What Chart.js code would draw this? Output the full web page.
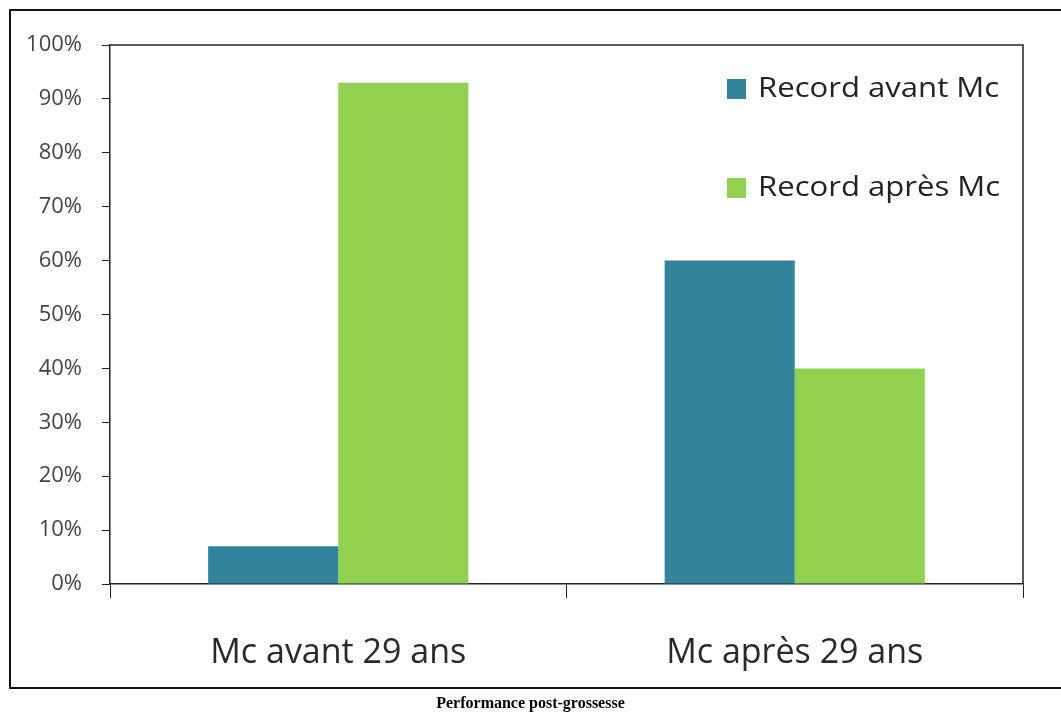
<!DOCTYPE html>
<html>
<head>
<meta charset="utf-8">
<script src="https://cdn.jsdelivr.net/npm/chart.js@4.4.1/dist/chart.umd.min.js"></script>
<style>
  html, body { margin: 0; padding: 0; background: #fff; overflow: hidden; }
  #frame {
    position: absolute; left: 9px; top: 9px; width: 1070px; height: 676px;
    border: 2px solid #111; box-sizing: content-box;
  }
  #wrap { position: absolute; left: 0; top: 0; width: 1061px; height: 715px; }
  #caption {
    position: absolute; left: 0; width: 1061px; top: 694px; text-align: center;
    font: bold 16px "Liberation Serif", "DejaVu Serif", serif; color: #000;
  }
</style>
</head>
<body>
<div id="frame"></div>
<div id="wrap"><canvas id="chart" width="1061" height="715"></canvas></div>
<div id="caption">Performance post-grossesse</div>
<script>
// ── données ──────────────────────────────────────────
const categories = ["Mc avant 29 ans", "Mc après 29 ans"];
const seriesNames = ["Record avant Mc", "Record après Mc"];
const recordAvant = [7, 60];
const recordApres = [93, 40];
const yTicks = [0, 10, 20, 30, 40, 50, 60, 70, 80, 90, 100];

const colors = ["#31849B", "#92D050"];
const fontFamily = "'Open Sans', Lato, sans-serif";

// cadre noir autour de la zone de tracé (haut + droite)
const plotBox = {
  id: "plotBox",
  afterDraw(chart) {
    const { ctx, chartArea: a } = chart;
    ctx.save();
    ctx.strokeStyle = "#222";
    ctx.lineWidth = 1.5;
    ctx.beginPath();
    ctx.moveTo(a.left, a.top);
    ctx.lineTo(a.right, a.top);
    ctx.lineTo(a.right, a.bottom);
    ctx.stroke();
    ctx.restore();
  },
};

// légende dessinée à l'intérieur du graphique (texte un peu étiré en largeur)
const insideLegend = {
  id: "insideLegend",
  afterDraw(chart) {
    const { ctx } = chart;
    ctx.save();
    ctx.font = "28px " + fontFamily;
    ctx.textBaseline = "middle";
    chart.data.datasets.forEach((ds, i) => {
      const y = 89 + i * 99;
      ctx.fillStyle = ds.backgroundColor;
      ctx.fillRect(727, y - 10, 19, 20);
      ctx.fillStyle = "#222";
      ctx.save();
      ctx.translate(758, y);
      ctx.scale(1.11, 1);
      ctx.fillText(ds.label, 0, 0);
      ctx.restore();
    });
    ctx.restore();
  },
};

new Chart(document.getElementById("chart").getContext("2d"), {
  type: "bar",
  data: {
    labels: categories,
    datasets: [
      { label: seriesNames[0], data: recordAvant, backgroundColor: colors[0] },
      { label: seriesNames[1], data: recordApres, backgroundColor: colors[1] },
    ],
  },
  options: {
    responsive: false,
    animation: false,
    events: [],
    layout: { padding: { top: 45, right: 38, left: 0, bottom: 0 } },
    datasets: { bar: { categoryPercentage: 0.57, barPercentage: 1.0 } },
    plugins: { legend: { display: false }, tooltip: { enabled: false } },
    scales: {
      x: {
        afterFit: (s) => { s.height = 131; },
        grid: { drawOnChartArea: false, drawTicks: true, tickLength: 14, color: "#222", offset: true },
        border: { color: "#222", width: 1.5 },
        ticks: { color: "#2a2a2a", padding: 35, font: { family: fontFamily, size: 34 } },
      },
      y: {
        min: 0,
        max: 100,
        afterFit: (s) => { s.width = 110; },
        afterBuildTicks: (s) => { s.ticks = yTicks.map((v) => ({ value: v })); },
        grid: { drawOnChartArea: false, drawTicks: true, tickLength: 8, color: "#222" },
        border: { color: "#222", width: 1.5 },
        ticks: {
          color: "#444",
          padding: 20,
          font: { family: fontFamily, size: 22 },
          callback: (v) => v + "%",
        },
      },
    },
  },
  plugins: [plotBox, insideLegend],
});
</script>
</body>
</html>
